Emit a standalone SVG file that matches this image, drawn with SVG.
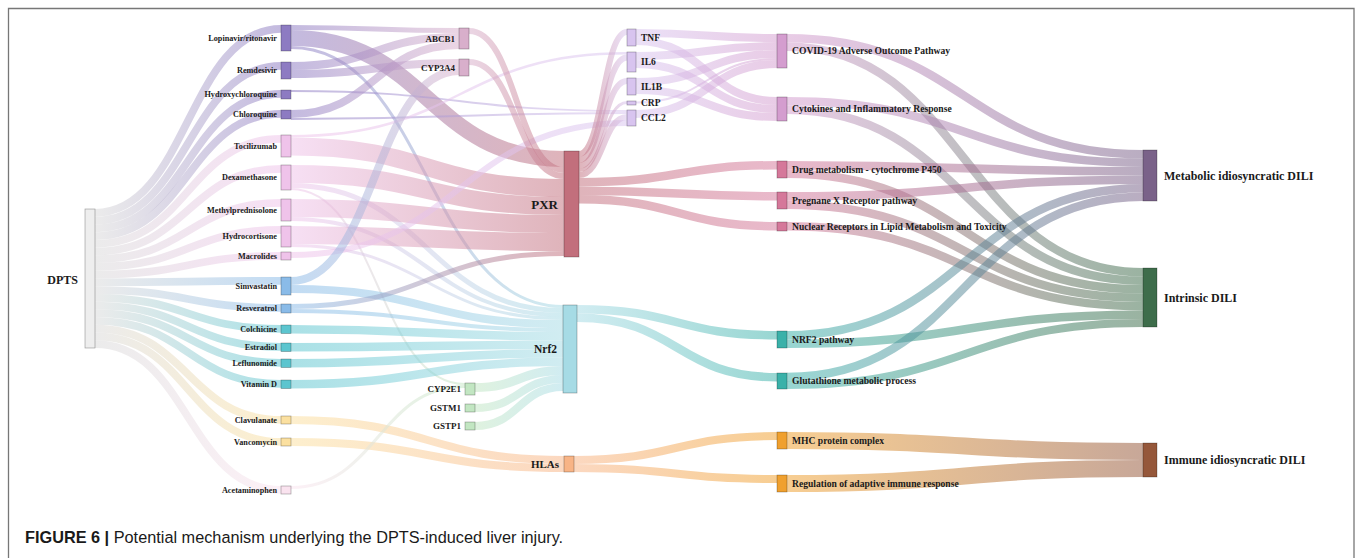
<svg xmlns="http://www.w3.org/2000/svg" width="1357" height="558" viewBox="0 0 1357 558">
<style>
.links path{fill:none;stroke-opacity:0.52}
.nodes rect{stroke:#000;stroke-opacity:0.35;stroke-width:0.7}
.t{font-family:"Liberation Serif","Times New Roman",serif;font-weight:bold;fill:#1a1a1a}
.d{font-size:8.2px;text-anchor:end}
.g{font-size:9px;text-anchor:end}
.c{font-size:9.5px}
.p{font-size:9.6px}
.f{font-size:12px}
.cap{font-family:"Liberation Sans",Arial,sans-serif;font-size:16.3px;fill:#1a1a1a}
</style>
<defs>
<linearGradient id="gGP"><stop offset="0" stop-color="#d9d9d9"/><stop offset="1" stop-color="#8d7bc2"/></linearGradient>
<linearGradient id="gGK"><stop offset="0" stop-color="#d9d9d9"/><stop offset="1" stop-color="#efc3ea"/></linearGradient>
<linearGradient id="gGB"><stop offset="0" stop-color="#d9d9d9"/><stop offset="1" stop-color="#8abbe8"/></linearGradient>
<linearGradient id="gGT"><stop offset="0" stop-color="#d9d9d9"/><stop offset="1" stop-color="#5cc5cf"/></linearGradient>
<linearGradient id="gGY"><stop offset="0" stop-color="#d9d9d9"/><stop offset="1" stop-color="#fbe0a0"/></linearGradient>
<linearGradient id="gGL"><stop offset="0" stop-color="#d9d9d9"/><stop offset="1" stop-color="#fae3ef"/></linearGradient>
<linearGradient id="gPA"><stop offset="0" stop-color="#8d7bc2"/><stop offset="1" stop-color="#d8afcb"/></linearGradient>
<linearGradient id="gPX"><stop offset="0" stop-color="#8d7bc2"/><stop offset="1" stop-color="#c26f7c"/></linearGradient>
<linearGradient id="gPN"><stop offset="0" stop-color="#8d7bc2"/><stop offset="1" stop-color="#a6dbe5"/></linearGradient>
<linearGradient id="gPC"><stop offset="0" stop-color="#8d7bc2"/><stop offset="1" stop-color="#d8c4ef"/></linearGradient>
<linearGradient id="gKC"><stop offset="0" stop-color="#efc3ea"/><stop offset="1" stop-color="#d8c4ef"/></linearGradient>
<linearGradient id="gKX"><stop offset="0" stop-color="#efc3ea"/><stop offset="1" stop-color="#c26f7c"/></linearGradient>
<linearGradient id="gKN"><stop offset="0" stop-color="#efc3ea"/><stop offset="1" stop-color="#a6dbe5"/></linearGradient>
<linearGradient id="gKG"><stop offset="0" stop-color="#efc3ea"/><stop offset="1" stop-color="#c2e6c2"/></linearGradient>
<linearGradient id="gBA"><stop offset="0" stop-color="#8abbe8"/><stop offset="1" stop-color="#d8afcb"/></linearGradient>
<linearGradient id="gBN"><stop offset="0" stop-color="#8abbe8"/><stop offset="1" stop-color="#a6dbe5"/></linearGradient>
<linearGradient id="gBX"><stop offset="0" stop-color="#8abbe8"/><stop offset="1" stop-color="#c26f7c"/></linearGradient>
<linearGradient id="gTN"><stop offset="0" stop-color="#5cc5cf"/><stop offset="1" stop-color="#a6dbe5"/></linearGradient>
<linearGradient id="gYH"><stop offset="0" stop-color="#fbe0a0"/><stop offset="1" stop-color="#f8b486"/></linearGradient>
<linearGradient id="gLG"><stop offset="0" stop-color="#fae3ef"/><stop offset="1" stop-color="#c2e6c2"/></linearGradient>
<linearGradient id="gAX"><stop offset="0" stop-color="#d8afcb"/><stop offset="1" stop-color="#c26f7c"/></linearGradient>
<linearGradient id="gRN"><stop offset="0" stop-color="#c2e6c2"/><stop offset="1" stop-color="#a6dbe5"/></linearGradient>
<linearGradient id="gXC"><stop offset="0" stop-color="#c26f7c"/><stop offset="1" stop-color="#d8c4ef"/></linearGradient>
<linearGradient id="gXP"><stop offset="0" stop-color="#c26f7c"/><stop offset="1" stop-color="#d5789a"/></linearGradient>
<linearGradient id="gCO"><stop offset="0" stop-color="#d8c4ef"/><stop offset="1" stop-color="#d49dcf"/></linearGradient>
<linearGradient id="gOM"><stop offset="0" stop-color="#d49dcf"/><stop offset="1" stop-color="#7a6289"/></linearGradient>
<linearGradient id="gOI"><stop offset="0" stop-color="#d49dcf"/><stop offset="1" stop-color="#3e6d4b"/></linearGradient>
<linearGradient id="gPM"><stop offset="0" stop-color="#d5789a"/><stop offset="1" stop-color="#7a6289"/></linearGradient>
<linearGradient id="gPI"><stop offset="0" stop-color="#d5789a"/><stop offset="1" stop-color="#3e6d4b"/></linearGradient>
<linearGradient id="gNT"><stop offset="0" stop-color="#a6dbe5"/><stop offset="1" stop-color="#3ab1a9"/></linearGradient>
<linearGradient id="gTM"><stop offset="0" stop-color="#3ab1a9"/><stop offset="1" stop-color="#7a6289"/></linearGradient>
<linearGradient id="gTI"><stop offset="0" stop-color="#3ab1a9"/><stop offset="1" stop-color="#3e6d4b"/></linearGradient>
<linearGradient id="gHO"><stop offset="0" stop-color="#f8b486"/><stop offset="1" stop-color="#f0a02e"/></linearGradient>
<linearGradient id="gOB"><stop offset="0" stop-color="#f0a02e"/><stop offset="1" stop-color="#95573a"/></linearGradient>
</defs>
<rect width="1357" height="558" fill="#fff"/>
<path d="M8.5,560V8.5H1354V560" fill="none" stroke="#777" stroke-width="1.3"/>
<g id="connectors" class="links">
<path d="M95,212.86C188,212.86 188,28.86 281,28.86" stroke="url(#gGP)" stroke-width="7.72"/>
<path d="M95,220.58C188,220.58 188,65.86 281,65.86" stroke="url(#gGP)" stroke-width="7.72"/>
<path d="M95,228.3C188,228.3 188,93.86 281,93.86" stroke="url(#gGP)" stroke-width="7.72"/>
<path d="M95,236.02C188,236.02 188,113.86 281,113.86" stroke="url(#gGP)" stroke-width="7.72"/>
<path d="M95,243.74C188,243.74 188,138.86 281,138.86" stroke="url(#gGK)" stroke-width="7.72"/>
<path d="M95,251.46C188,251.46 188,168.86 281,168.86" stroke="url(#gGK)" stroke-width="7.72"/>
<path d="M95,259.18C188,259.18 188,202.86 281,202.86" stroke="url(#gGK)" stroke-width="7.72"/>
<path d="M95,266.9C188,266.9 188,229.86 281,229.86" stroke="url(#gGK)" stroke-width="7.72"/>
<path d="M95,274.62C188,274.62 188,255.86 281,255.86" stroke="url(#gGK)" stroke-width="7.72"/>
<path d="M95,282.34C188,282.34 188,280.86 281,280.86" stroke="url(#gGB)" stroke-width="7.72"/>
<path d="M95,290.06C188,290.06 188,307.86 281,307.86" stroke="url(#gGB)" stroke-width="7.72"/>
<path d="M95,297.78C188,297.78 188,328.86 281,328.86" stroke="url(#gGT)" stroke-width="7.72"/>
<path d="M95,305.5C188,305.5 188,346.86 281,346.86" stroke="url(#gGT)" stroke-width="7.72"/>
<path d="M95,313.22C188,313.22 188,362.86 281,362.86" stroke="url(#gGT)" stroke-width="7.72"/>
<path d="M95,320.94C188,320.94 188,383.86 281,383.86" stroke="url(#gGT)" stroke-width="7.72"/>
<path d="M95,328.66C188,328.66 188,419.86 281,419.86" stroke="url(#gGY)" stroke-width="7.72"/>
<path d="M95,336.38C188,336.38 188,441.86 281,441.86" stroke="url(#gGY)" stroke-width="7.72"/>
<path d="M95,344.1C188,344.1 188,489.86 281,489.86" stroke="url(#gGL)" stroke-width="7.72"/>
<path d="M291,27.5C375,27.5 375,30.5 459,30.5" stroke="url(#gPA)" stroke-width="5"/>
<path d="M291,38C427.5,38 427.5,159 564,159" stroke="url(#gPX)" stroke-width="16"/>
<path d="M291,47.5C427,47.5 427,306.5 563,306.5" stroke="url(#gPN)" stroke-width="3"/>
<path d="M291,66C375,66 375,37 459,37" stroke="url(#gPA)" stroke-width="8"/>
<path d="M291,74C375,74 375,63 459,63" stroke="url(#gPA)" stroke-width="8"/>
<path d="M291,91C459,91 459,111 627,111" stroke="url(#gPC)" stroke-width="2"/>
<path d="M291,114C375,114 375,45 459,45" stroke="url(#gPA)" stroke-width="8"/>
<path d="M291,119C459,119 459,113 627,113" stroke="url(#gPC)" stroke-width="2"/>
<path d="M291,136.25C459,136.25 459,53.25 627,53.25" stroke="url(#gKC)" stroke-width="2.5"/>
<path d="M291,146.5C427.5,146.5 427.5,188 564,188" stroke="url(#gKX)" stroke-width="18"/>
<path d="M291,174C427.5,174 427.5,206 564,206" stroke="url(#gKX)" stroke-width="18"/>
<path d="M291,185.5C427,185.5 427,310.5 563,310.5" stroke="url(#gKN)" stroke-width="5"/>
<path d="M291,189C378,189 378,384 465,384" stroke="url(#gKG)" stroke-width="2"/>
<path d="M291,208C427.5,208 427.5,224 564,224" stroke="url(#gKX)" stroke-width="18"/>
<path d="M291,219C427,219 427,315 563,315" stroke="url(#gKN)" stroke-width="4"/>
<path d="M291,235C427.5,235 427.5,242 564,242" stroke="url(#gKX)" stroke-width="18"/>
<path d="M291,245.5C427,245.5 427,318.5 563,318.5" stroke="url(#gKN)" stroke-width="3"/>
<path d="M291,255C459,255 459,123 627,123" stroke="url(#gKC)" stroke-width="6"/>
<path d="M291,281C375,281 375,71 459,71" stroke="url(#gBA)" stroke-width="8"/>
<path d="M291,289C427,289 427,324 563,324" stroke="url(#gBN)" stroke-width="8"/>
<path d="M291,306.5C427.5,306.5 427.5,253.5 564,253.5" stroke="url(#gBX)" stroke-width="5"/>
<path d="M291,311C427,311 427,330 563,330" stroke="url(#gBN)" stroke-width="4"/>
<path d="M291,329.25C427,329.25 427,336.25 563,336.25" stroke="url(#gTN)" stroke-width="8.5"/>
<path d="M291,347.25C427,347.25 427,344.75 563,344.75" stroke="url(#gTN)" stroke-width="8.5"/>
<path d="M291,363.25C427,363.25 427,353.25 563,353.25" stroke="url(#gTN)" stroke-width="8.5"/>
<path d="M291,384.25C427,384.25 427,361.75 563,361.75" stroke="url(#gTN)" stroke-width="8.5"/>
<path d="M291,420C427.5,420 427.5,460 564,460" stroke="url(#gYH)" stroke-width="8"/>
<path d="M291,442C427.5,442 427.5,468 564,468" stroke="url(#gYH)" stroke-width="8"/>
<path d="M291,487.5C378,487.5 378,386.5 465,386.5" stroke="url(#gLG)" stroke-width="3"/>
<path d="M469,31C516.5,31 516.5,170 564,170" stroke="url(#gAX)" stroke-width="6"/>
<path d="M469,62C516.5,62 516.5,176 564,176" stroke="url(#gAX)" stroke-width="6"/>
<path d="M475,387.5C519,387.5 519,370.5 563,370.5" stroke="url(#gRN)" stroke-width="9"/>
<path d="M475,408C519,408 519,379 563,379" stroke="url(#gRN)" stroke-width="8"/>
<path d="M475,426C519,426 519,387 563,387" stroke="url(#gRN)" stroke-width="8"/>
<path d="M579,154C603,154 603,32 627,32" stroke="url(#gXC)" stroke-width="6"/>
<path d="M579,160C603,160 603,57.5 627,57.5" stroke="url(#gXC)" stroke-width="6"/>
<path d="M579,166C603,166 603,81 627,81" stroke="url(#gXC)" stroke-width="6"/>
<path d="M579,170.5C603,170.5 603,102.5 627,102.5" stroke="url(#gXC)" stroke-width="3"/>
<path d="M579,175C603,175 603,117 627,117" stroke="url(#gXC)" stroke-width="6"/>
<path d="M579,182.25C678,182.25 678,165.25 777,165.25" stroke="url(#gXP)" stroke-width="8.5"/>
<path d="M579,190.75C678,190.75 678,196.25 777,196.25" stroke="url(#gXP)" stroke-width="8.5"/>
<path d="M579,199.25C678,199.25 678,226.25 777,226.25" stroke="url(#gXP)" stroke-width="8.5"/>
<path d="M577,309.25C677,309.25 677,335.25 777,335.25" stroke="url(#gNT)" stroke-width="8.5"/>
<path d="M577,317.75C677,317.75 677,377.25 777,377.25" stroke="url(#gNT)" stroke-width="8.5"/>
<path d="M574,460C675.5,460 675.5,436 777,436" stroke="url(#gHO)" stroke-width="8"/>
<path d="M574,468C675.5,468 675.5,479 777,479" stroke="url(#gHO)" stroke-width="8"/>
<path d="M636,33C706.5,33 706.5,38 777,38" stroke="url(#gCO)" stroke-width="8"/>
<path d="M636,41C706.5,41 706.5,101 777,101" stroke="url(#gCO)" stroke-width="8"/>
<path d="M636,56C706.5,56 706.5,46 777,46" stroke="url(#gCO)" stroke-width="8"/>
<path d="M636,64C706.5,64 706.5,109 777,109" stroke="url(#gCO)" stroke-width="8"/>
<path d="M636,82C706.5,82 706.5,54 777,54" stroke="url(#gCO)" stroke-width="8"/>
<path d="M636,90C706.5,90 706.5,117 777,117" stroke="url(#gCO)" stroke-width="8"/>
<path d="M636,102.5C706.5,102.5 706.5,59 777,59" stroke="url(#gCO)" stroke-width="2"/>
<path d="M636,114C706.5,114 706.5,64 777,64" stroke="url(#gCO)" stroke-width="8"/>
<path d="M787,38.25C965,38.25 965,154.25 1143,154.25" stroke="url(#gOM)" stroke-width="8.5"/>
<path d="M787,46.75C965,46.75 965,272.25 1143,272.25" stroke="url(#gOI)" stroke-width="8.5"/>
<path d="M787,101.25C965,101.25 965,162.75 1143,162.75" stroke="url(#gOM)" stroke-width="8.5"/>
<path d="M787,109.75C965,109.75 965,280.75 1143,280.75" stroke="url(#gOI)" stroke-width="8.5"/>
<path d="M787,165.25C965,165.25 965,171.25 1143,171.25" stroke="url(#gPM)" stroke-width="8.5"/>
<path d="M787,173.75C965,173.75 965,289.25 1143,289.25" stroke="url(#gPI)" stroke-width="8.5"/>
<path d="M787,196.25C965,196.25 965,179.75 1143,179.75" stroke="url(#gPM)" stroke-width="8.5"/>
<path d="M787,204.75C965,204.75 965,297.75 1143,297.75" stroke="url(#gPI)" stroke-width="8.5"/>
<path d="M787,226.25C965,226.25 965,306.25 1143,306.25" stroke="url(#gPI)" stroke-width="8.5"/>
<path d="M787,335.25C965,335.25 965,188.25 1143,188.25" stroke="url(#gTM)" stroke-width="8.5"/>
<path d="M787,343.75C965,343.75 965,314.75 1143,314.75" stroke="url(#gTI)" stroke-width="8.5"/>
<path d="M787,377C965,377 965,196.75 1143,196.75" stroke="url(#gTM)" stroke-width="8.5"/>
<path d="M787,385C965,385 965,323 1143,323" stroke="url(#gTI)" stroke-width="8"/>
<path d="M787,440.5C965,440.5 965,451.5 1143,451.5" stroke="url(#gOB)" stroke-width="17"/>
<path d="M787,483.5C965,483.5 965,468.5 1143,468.5" stroke="url(#gOB)" stroke-width="17"/>
</g>
<g class="nodes">
<g id="n-dpts"><rect x="85" y="209" width="10" height="139" fill="#eeeeee"/><text class="t" x="78" y="284" font-size="12" text-anchor="end">DPTS</text></g>
<g id="n-lop"><rect x="281" y="25" width="10" height="26" fill="#8d7bc2"/><text class="t d" x="277" y="40.6">Lopinavir/ritonavir</text></g>
<g id="n-rem"><rect x="281" y="62" width="10" height="17" fill="#8d7bc2"/><text class="t d" x="277" y="73.1">Remdesivir</text></g>
<g id="n-hcq"><rect x="281" y="90" width="10" height="9" fill="#8d7bc2"/><text class="t d" x="277" y="97.1">Hydroxychloroquine</text></g>
<g id="n-cq"><rect x="281" y="110" width="10" height="9" fill="#8d7bc2"/><text class="t d" x="277" y="117.1">Chloroquine</text></g>
<g id="n-toci"><rect x="281" y="135" width="10" height="22" fill="#efc3ea"/><text class="t d" x="277" y="148.6">Tocilizumab</text></g>
<g id="n-dex"><rect x="281" y="165" width="10" height="25" fill="#efc3ea"/><text class="t d" x="277" y="180.1">Dexamethasone</text></g>
<g id="n-mp"><rect x="281" y="199" width="10" height="22" fill="#efc3ea"/><text class="t d" x="277" y="212.6">Methylprednisolone</text></g>
<g id="n-hc"><rect x="281" y="226" width="10" height="21" fill="#efc3ea"/><text class="t d" x="277" y="239.1">Hydrocortisone</text></g>
<g id="n-mac"><rect x="281" y="252" width="10" height="8" fill="#efc3ea"/><text class="t d" x="277" y="258.6">Macrolides</text></g>
<g id="n-sim"><rect x="281" y="277" width="10" height="18" fill="#8abbe8"/><text class="t d" x="277" y="288.6">Simvastatin</text></g>
<g id="n-res"><rect x="281" y="304" width="10" height="9" fill="#8abbe8"/><text class="t d" x="277" y="311.1">Resveratrol</text></g>
<g id="n-col"><rect x="281" y="325" width="10" height="8.5" fill="#5cc5cf"/><text class="t d" x="277" y="331.9">Colchicine</text></g>
<g id="n-est"><rect x="281" y="343" width="10" height="8.5" fill="#5cc5cf"/><text class="t d" x="277" y="349.9">Estradiol</text></g>
<g id="n-lef"><rect x="281" y="359" width="10" height="8.5" fill="#5cc5cf"/><text class="t d" x="277" y="365.9">Leflunomide</text></g>
<g id="n-vitd"><rect x="281" y="380" width="10" height="8.5" fill="#5cc5cf"/><text class="t d" x="277" y="386.9">Vitamin D</text></g>
<g id="n-clav"><rect x="281" y="416" width="10" height="8" fill="#fbe0a0"/><text class="t d" x="277" y="422.6">Clavulanate</text></g>
<g id="n-van"><rect x="281" y="438" width="10" height="8" fill="#fbe0a0"/><text class="t d" x="277" y="445.1">Vancomycin</text></g>
<g id="n-ace"><rect x="281" y="486" width="10" height="8" fill="#fae3ef"/><text class="t d" x="277" y="492.6">Acetaminophen</text></g>
<g id="n-abcb1"><rect x="459" y="28" width="10" height="21" fill="#d8afcb"/><text class="t g" x="455" y="41.5">ABCB1</text></g>
<g id="n-cyp3a4"><rect x="459" y="59" width="10" height="17" fill="#d8afcb"/><text class="t g" x="455" y="70.5">CYP3A4</text></g>
<g id="n-cyp2e1"><rect x="465" y="383" width="10" height="12" fill="#c2e6c2"/><text class="t g" x="461" y="392">CYP2E1</text></g>
<g id="n-gstm1"><rect x="465" y="404" width="10" height="8" fill="#c2e6c2"/><text class="t g" x="461" y="411">GSTM1</text></g>
<g id="n-gstp1"><rect x="465" y="422" width="10" height="8" fill="#c2e6c2"/><text class="t g" x="461" y="429">GSTP1</text></g>
<g id="n-pxr"><rect x="564" y="151" width="15" height="106" fill="#c26f7c"/><text class="t" x="558" y="208.5" font-size="13" text-anchor="end">PXR</text></g>
<g id="n-nrf2"><rect x="563" y="305" width="14" height="88" fill="#a6dbe5"/><text class="t" x="557" y="353" font-size="11.5" text-anchor="end">Nrf2</text></g>
<g id="n-hlas"><rect x="564" y="456" width="10" height="16" fill="#f8b486"/><text class="t" x="559" y="468" font-size="11" text-anchor="end">HLAs</text></g>
<g id="n-tnf"><rect x="627" y="29" width="9" height="17" fill="#d8c4ef"/><text class="t c" x="641" y="40.7">TNF</text></g>
<g id="n-il6"><rect x="627" y="52" width="9" height="20" fill="#d8c4ef"/><text class="t c" x="641" y="65.2">IL6</text></g>
<g id="n-il1b"><rect x="627" y="78" width="9" height="17" fill="#d8c4ef"/><text class="t c" x="641" y="89.7">IL1B</text></g>
<g id="n-crp"><rect x="627" y="101" width="9" height="4" fill="#d8c4ef"/><text class="t c" x="641" y="106.2">CRP</text></g>
<g id="n-ccl2"><rect x="627" y="110" width="9" height="16" fill="#d8c4ef"/><text class="t c" x="641" y="121.2">CCL2</text></g>
<g id="n-covid"><rect x="777" y="34" width="10" height="34" fill="#d49dcf"/><text class="t p" x="792" y="54">COVID-19 Adverse Outcome Pathway</text></g>
<g id="n-cyto"><rect x="777" y="97" width="10" height="24" fill="#d49dcf"/><text class="t p" x="792" y="112">Cytokines and Inflammatory Response</text></g>
<g id="n-drugmet"><rect x="777" y="161" width="10" height="17" fill="#d5789a"/><text class="t p" x="792" y="172.5">Drug metabolism - cytochrome P450</text></g>
<g id="n-pxrpath"><rect x="777" y="192" width="10" height="17" fill="#d5789a"/><text class="t p" x="792" y="203.5">Pregnane X Receptor pathway</text></g>
<g id="n-nuclear"><rect x="777" y="222" width="10" height="9" fill="#d5789a"/><text class="t p" x="792" y="229.5">Nuclear Receptors in Lipid Metabolism and Toxicity</text></g>
<g id="n-nrf2path"><rect x="777" y="331" width="10" height="17" fill="#3ab1a9"/><text class="t p" x="792" y="342.5">NRF2 pathway</text></g>
<g id="n-glut"><rect x="777" y="373" width="10" height="16" fill="#3ab1a9"/><text class="t p" x="792" y="384">Glutathione metabolic process</text></g>
<g id="n-mhc"><rect x="777" y="432" width="10" height="17" fill="#f0a02e"/><text class="t p" x="792" y="443.5">MHC protein complex</text></g>
<g id="n-reg"><rect x="777" y="475" width="10" height="17" fill="#f0a02e"/><text class="t p" x="792" y="486.5">Regulation of adaptive immune response</text></g>
<g id="n-met"><rect x="1143" y="150" width="14" height="51" fill="#7a6289"/><text class="t f" x="1164" y="179.5">Metabolic idiosyncratic DILI</text></g>
<g id="n-int"><rect x="1143" y="268" width="14" height="59" fill="#3e6d4b"/><text class="t f" x="1164" y="301.5">Intrinsic DILI</text></g>
<g id="n-imm"><rect x="1143" y="443" width="14" height="34" fill="#95573a"/><text class="t f" x="1164" y="464">Immune idiosyncratic DILI</text></g>
</g>
<text class="cap" x="25" y="543"><tspan font-weight="bold">FIGURE 6 |</tspan> Potential mechanism underlying the DPTS-induced liver injury.</text>
</svg>
